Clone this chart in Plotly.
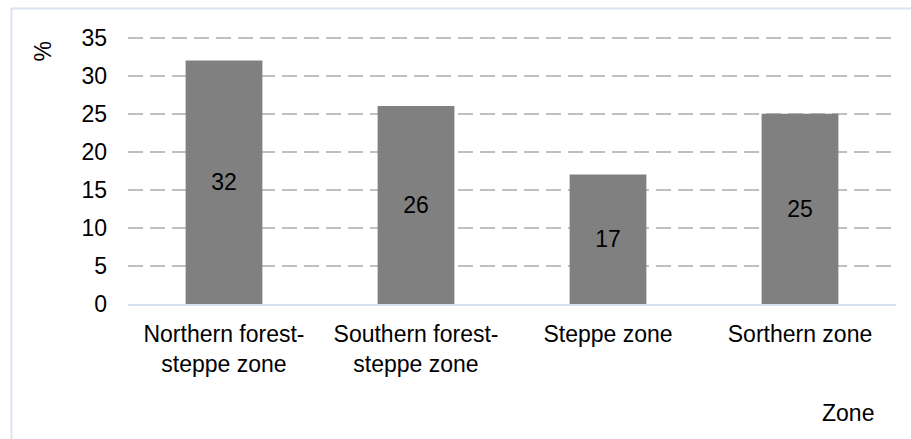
import plotly.graph_objects as go

categories = ["Northern forest-<br>steppe zone", "Southern forest-<br>steppe zone", "Steppe zone", "Sorthern zone"]
values = [32, 26, 17, 25]
y_ticks = [0, 5, 10, 15, 20, 25, 30, 35]

W, H = 911, 439
Y_MAX = 35.6
L, R, B = 128, 15, 135
ph = 266 * Y_MAX / 35
T = H - B - ph
pw = W - L - R
FS = 23

def px(x):
    return (x - L) / pw

def py(y):
    return (H - B - y) / ph

fig = go.Figure()
fig.add_trace(go.Bar(
    x=categories, y=values,
    marker=dict(color="#808080", line=dict(width=0)),
    text=[str(v) for v in values],
    textposition="inside", insidetextanchor="middle",
    textfont=dict(family="Liberation Sans, Arial", size=FS, color="#000000"),
    hoverinfo="skip",
))

fig.update_layout(
    width=W, height=H,
    margin=dict(l=L, r=R, t=T, b=B),
    paper_bgcolor="white", plot_bgcolor="white",
    bargap=0.6,
    showlegend=False,
    font=dict(family="Liberation Sans, Arial", size=FS, color="#000000"),
    xaxis=dict(
        showgrid=False, showline=True, linecolor="#d6e0ee", linewidth=2,
        ticks="", tickfont=dict(size=FS), ticklabelstandoff=8,
    ),
    yaxis=dict(
        range=[0, Y_MAX], tickvals=y_ticks, showline=False, zeroline=False,
        showgrid=True, gridcolor="#c0c0c0", gridwidth=1.5, griddash="15px,7px",
        tickfont=dict(size=FS), ticks="", ticklabelstandoff=20,
    ),
    shapes=[dict(
        type="rect", xref="paper", yref="paper",
        x0=px(11.5), x1=px(930), y0=py(460), y1=py(9),
        line=dict(color="#dbe4f0", width=2), fillcolor="rgba(0,0,0,0)", layer="below",
    )],
    annotations=[
        dict(text="%", xref="paper", yref="paper", x=px(43), y=py(52),
             showarrow=False, textangle=-90, font=dict(size=FS),
             xanchor="center", yanchor="middle"),
        dict(text="Zone", xref="paper", yref="paper", x=px(848), y=py(413),
             showarrow=False, font=dict(size=FS),
             xanchor="center", yanchor="middle"),
    ],
)

fig.write_html("out.html")
